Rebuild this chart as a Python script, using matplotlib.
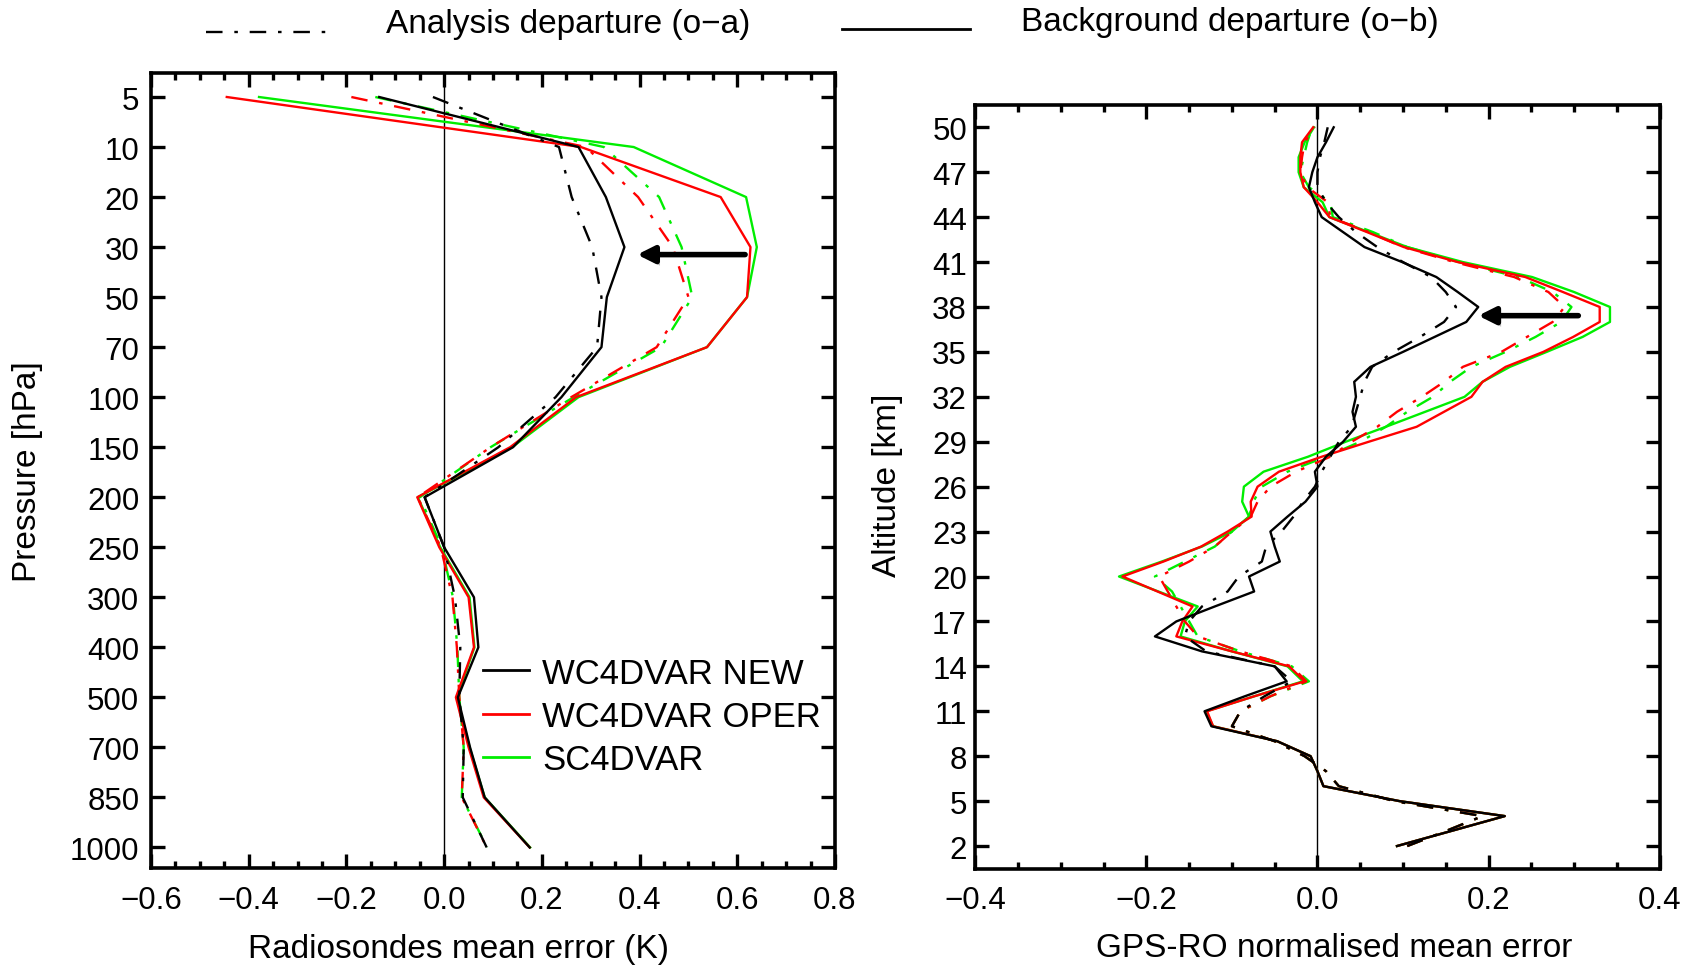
from matplotlib import pyplot as plt
from matplotlib.lines import Line2D
from matplotlib.ticker import MultipleLocator
from matplotlib import patheffects

plt.rcParams['font.family'] = ['Liberation Sans', 'DejaVu Sans']

# ---- radiosonde panel (pressure levels, top to bottom) ----
pressureLevels = ['5', '10', '20', '30', '50', '70', '100', '150', '200',
                  '250', '300', '400', '500', '700', '850', '1000']
newOb_rs = [-0.133, 0.275, 0.331, 0.369, 0.333, 0.322, 0.24, 0.141, -0.04,
            0.0, 0.061, 0.07, 0.028, 0.053, 0.083, 0.175]
operOb_rs = [-0.445, 0.28, 0.566, 0.627, 0.62, 0.538, 0.27, 0.135, -0.055,
             -0.01, 0.05, 0.061, 0.024, 0.05, 0.081, 0.175]
scOb_rs = [-0.379, 0.388, 0.618, 0.64, 0.62, 0.538, 0.275, 0.139, -0.054,
           -0.008, 0.052, 0.062, 0.026, 0.052, 0.083, 0.176]
newOa_rs = [-0.023, 0.235, 0.261, 0.303, 0.322, 0.313, 0.228, 0.111, -0.04,
            0.0, 0.022, 0.033, 0.031, 0.04, 0.038, 0.087]
operOa_rs = [-0.19, 0.29, 0.397, 0.468, 0.50, 0.435, 0.26, 0.095, -0.054,
             -0.007, 0.017, 0.026, 0.031, 0.04, 0.036, 0.087]
scOa_rs = [-0.141, 0.327, 0.44, 0.486, 0.508, 0.444, 0.265, 0.095, -0.05,
           -0.005, 0.018, 0.027, 0.031, 0.04, 0.036, 0.088]

# ---- GPS-RO panel (altitude 2..50 km) ----
altitudes = list(range(2, 51))
altTicks = list(range(2, 51, 3))
newOb_gps = [0.093, 0.156, 0.219, 0.096, 0.007, 0.0, -0.008, -0.047, -0.124, -0.132,
             -0.085, -0.036, -0.05, -0.135, -0.19, -0.165, -0.12, -0.074, -0.08, -0.044,
             -0.05, -0.055, -0.035, -0.014, 0.0, -0.003, 0.01, 0.03, 0.045, 0.041,
             0.045, 0.043, 0.062, 0.10, 0.137, 0.174, 0.188, 0.164, 0.139, 0.099,
             0.055, 0.03, 0.005, -0.003, -0.01, -0.006, 0.0, 0.01, 0.019]
newOa_gps = [0.105, 0.15, 0.193, 0.09, 0.025, 0.01, -0.015, -0.05, -0.1, -0.09,
             -0.062, -0.03, -0.05, -0.13, -0.155, -0.15, -0.135, -0.105, -0.092, -0.065,
             -0.06, -0.042, -0.028, -0.017, -0.003, 0.005, 0.015, 0.025, 0.04, 0.045,
             0.05, 0.055, 0.064, 0.089, 0.12, 0.148, 0.162, 0.15, 0.133, 0.1,
             0.07, 0.045, 0.025, 0.01, 0.0, 0.0, 0.003, 0.008, 0.012]
operOb_gps = [0.093, 0.156, 0.219, 0.096, 0.007, 0.0, -0.008, -0.047, -0.122, -0.129,
              -0.074, -0.015, -0.033, -0.1, -0.165, -0.158, -0.146, -0.187, -0.228, -0.18,
              -0.136, -0.105, -0.077, -0.078, -0.07, -0.045, 0.005, 0.06, 0.116, 0.148,
              0.18, 0.193, 0.22, 0.264, 0.299, 0.33, 0.33, 0.287, 0.243, 0.164,
              0.101, 0.058, 0.014, 0.0, -0.016, -0.02, -0.02, -0.018, -0.005]
operOa_gps = [0.105, 0.15, 0.193, 0.09, 0.025, 0.01, -0.015, -0.05, -0.1, -0.09,
              -0.055, -0.013, -0.03, -0.09, -0.14, -0.155, -0.165, -0.175, -0.185, -0.15,
              -0.12, -0.1, -0.078, -0.07, -0.055, -0.025, 0.015, 0.04, 0.07, 0.093,
              0.122, 0.148, 0.17, 0.215, 0.245, 0.275, 0.289, 0.27, 0.23, 0.16,
              0.1, 0.06, 0.015, 0.012, -0.012, -0.02, -0.018, -0.015, -0.003]
scOb_gps = [0.093, 0.156, 0.219, 0.096, 0.007, 0.0, -0.008, -0.047, -0.122, -0.13,
            -0.074, -0.017, -0.035, -0.1, -0.16, -0.155, -0.14, -0.186, -0.232, -0.182,
            -0.135, -0.1, -0.08, -0.088, -0.086, -0.063, -0.011, 0.033, 0.08, 0.126,
            0.172, 0.193, 0.225, 0.268, 0.31, 0.342, 0.342, 0.3, 0.251, 0.17,
            0.105, 0.06, 0.014, 0.006, -0.016, -0.022, -0.022, -0.015, -0.004]
scOa_gps = [0.105, 0.15, 0.193, 0.09, 0.025, 0.01, -0.015, -0.05, -0.1, -0.09,
            -0.055, -0.01, -0.03, -0.09, -0.14, -0.15, -0.16, -0.17, -0.19, -0.155,
            -0.12, -0.1, -0.08, -0.075, -0.065, -0.035, 0.01, 0.05, 0.08, 0.105,
            0.135, 0.155, 0.18, 0.22, 0.255, 0.285, 0.297, 0.275, 0.235, 0.165,
            0.105, 0.065, 0.018, 0.015, -0.01, -0.02, -0.016, -0.012, -0.006]

expNames = ['WC4DVAR NEW', 'WC4DVAR OPER', 'SC4DVAR']
colors = {'WC4DVAR NEW': 'black', 'WC4DVAR OPER': '#ff0000', 'SC4DVAR': '#00ee00'}
DASHDOT = (0, (7, 5, 1.5, 5))
LW = 1.7


def styleAxis(ax, ypad):
    for sp in ax.spines.values():
        sp.set_linewidth(2.6)
    ax.xaxis.set_minor_locator(MultipleLocator(0.05))
    ax.tick_params(which='both', direction='in', top=True, right=True, width=2.4)
    ax.tick_params(which='major', length=10, labelsize=22.5)
    ax.tick_params(which='minor', length=5)
    ax.tick_params(axis='x', pad=12)
    ax.tick_params(axis='y', which='minor', left=False, right=False)
    ax.tick_params(axis='y', pad=ypad)
    ax.axvline(0, color='black', lw=1.0, zorder=1)


def addArrow(ax, tail, tip):
    ann = ax.annotate('', xy=tip, xytext=tail,
                      arrowprops=dict(arrowstyle='-|>,head_length=1.0,head_width=0.5',
                                      lw=4, color='black', shrinkA=0, shrinkB=0))
    ann.arrow_patch.set_path_effects([
        patheffects.withSimplePatchShadow(offset=(2, -3), alpha=0.25, rho=0.9)])


def visualize():
    fig = plt.figure(figsize=(17.03, 9.70), dpi=100)

    # ---------------- left: radiosondes ----------------
    axL = fig.add_axes([0.0887, 0.1042, 0.4016, 0.819])
    idx = list(range(len(pressureLevels)))
    series_rs = {'SC4DVAR': (scOb_rs, scOa_rs),
                 'WC4DVAR OPER': (operOb_rs, operOa_rs),
                 'WC4DVAR NEW': (newOb_rs, newOa_rs)}
    for name in ['SC4DVAR', 'WC4DVAR OPER', 'WC4DVAR NEW']:
        ob, oa = series_rs[name]
        axL.plot(oa, idx, color=colors[name], lw=LW, linestyle=DASHDOT)
        axL.plot(ob, idx, color=colors[name], lw=LW)
    axL.set_xlim(-0.6, 0.8)
    axL.set_ylim(15.41, -0.47)
    axL.set_xticks([-0.6, -0.4, -0.2, 0.0, 0.2, 0.4, 0.6, 0.8])
    axL.set_yticks(idx)
    axL.set_yticklabels(pressureLevels)
    styleAxis(axL, 8.5)
    axL.set_ylabel('Pressure [hPa]', fontsize=24)
    axL.yaxis.set_label_coords(-0.181, 0.5)
    axL.yaxis.label.set_va('center')
    axL.set_xlabel('Radiosondes mean error (K)', fontsize=24)
    axL.xaxis.set_label_coords(0.449, -0.102)
    axL.xaxis.label.set_va('center')
    addArrow(axL, (0.616, 3.15), (0.395, 3.15))

    handles = [Line2D([], [], color=colors[n], lw=2) for n in expNames]
    axL.legend(handles, expNames, loc='upper left', bbox_to_anchor=(0.486, 0.266),
               frameon=False, fontsize=25, handlelength=1.3, handletextpad=0.4,
               labelspacing=0.3, borderaxespad=0, borderpad=0)

    # ---------------- right: GPS-RO ----------------
    axR = fig.add_axes([0.5727, 0.1036, 0.4018, 0.7873])
    series_gps = {'SC4DVAR': (scOb_gps, scOa_gps),
                  'WC4DVAR OPER': (operOb_gps, operOa_gps),
                  'WC4DVAR NEW': (newOb_gps, newOa_gps)}
    for name in ['SC4DVAR', 'WC4DVAR OPER', 'WC4DVAR NEW']:
        ob, oa = series_gps[name]
        axR.plot(oa, altitudes, color=colors[name], lw=LW, linestyle=DASHDOT)
        axR.plot(ob, altitudes, color=colors[name], lw=LW)
    axR.set_xlim(-0.4, 0.4)
    axR.set_ylim(0.5, 51.5)
    axR.set_xticks([-0.4, -0.2, 0.0, 0.2, 0.4])
    axR.set_yticks(altTicks)
    styleAxis(axR, 6)
    axR.set_ylabel('Altitude [km]', fontsize=24)
    axR.yaxis.set_label_coords(-0.128, 0.503)
    axR.yaxis.label.set_va('center')
    axR.set_xlabel('GPS-RO normalised mean error', fontsize=24)
    axR.xaxis.set_label_coords(0.524, -0.103)
    axR.xaxis.label.set_va('center')
    addArrow(axR, (0.305, 37.42), (0.188, 37.42))

    # ---------------- top key ----------------
    fig.add_artist(Line2D([206 / 1703, 331 / 1703], [0.966, 0.966], transform=fig.transFigure,
                          color='black', lw=LW, linestyle=DASHDOT))
    fig.text(386 / 1703, 0.975, 'Analysis departure (o\u2212a)', fontsize=24,
             ha='left', va='center')
    fig.add_artist(Line2D([842 / 1703, 970 / 1703], [0.969, 0.969], transform=fig.transFigure,
                          color='black', lw=2))
    fig.text(1021 / 1703, 0.977, 'Background departure (o\u2212b)', fontsize=24,
             ha='left', va='center')

    plt.savefig('out.png', dpi=100)


if __name__ == '__main__':
    visualize()
